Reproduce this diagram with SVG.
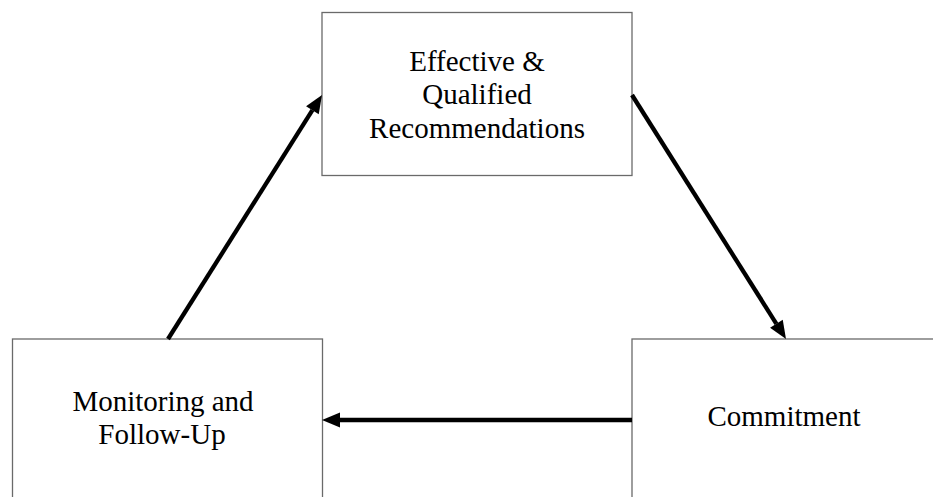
<svg xmlns="http://www.w3.org/2000/svg" width="933" height="497" viewBox="0 0 933 497">
<style>
.box{fill:#fff;stroke:#6a6a6a;stroke-width:1.3}
.lbl{font-family:"Liberation Serif","Times New Roman",serif;font-size:29px;fill:#000;text-anchor:middle}
.conn{stroke:#000;stroke-width:4.3;fill:none}
</style>
<defs>
<marker id="ah" markerUnits="userSpaceOnUse" markerWidth="19" markerHeight="16" refX="0" refY="7.5" orient="auto" overflow="visible">
<path d="M0,0 L18,7.5 L0,15 z" fill="#000"/>
</marker>
</defs>
<rect width="933" height="497" fill="#fff"/>
<g id="node-recommendations">
<rect class="box" x="322" y="12.5" width="310" height="163"/>
<text class="lbl" x="477" y="71">Effective &amp;</text>
<text class="lbl" x="477" y="104">Qualified</text>
<text class="lbl" x="477" y="138">Recommendations</text>
</g>
<g id="node-monitoring">
<rect class="box" x="12.5" y="339" width="310" height="200"/>
<text class="lbl" x="163" y="411">Monitoring and</text>
<text class="lbl" x="162" y="444">Follow-Up</text>
</g>
<g id="node-commitment">
<rect class="box" x="632" y="339" width="320" height="200"/>
<text class="lbl" x="784" y="426">Commitment</text>
</g>
<g id="connectors">
<line class="conn" x1="168" y1="339" x2="312.4" y2="110.2" marker-end="url(#ah)"/>
<line class="conn" x1="632" y1="95" x2="776.4" y2="323.8" marker-end="url(#ah)"/>
<line class="conn" x1="632" y1="420" x2="340" y2="420" marker-end="url(#ah)"/>
</g>
</svg>
